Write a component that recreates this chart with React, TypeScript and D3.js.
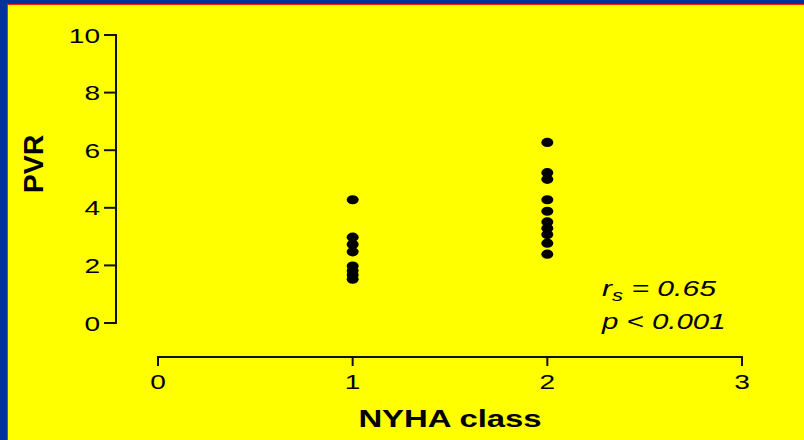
import React from "react";
import * as d3 from "d3";

const classes = [1, 2];
const class1Values = [4.28, 2.98, 2.73, 2.47, 1.98, 1.81, 1.67, 1.52];
const class2Values = [6.27, 5.22, 4.99, 4.28, 3.88, 3.51, 3.29, 3.07, 2.77, 2.39];
const yTicks = [0, 2, 4, 6, 8, 10];
const xTicks = [0, 1, 2, 3];
const xLabel = "NYHA class";
const yLabel = "PVR";
const statR = "0.65";
const statP = "p < 0.001";

const W = 804;
const H = 440;
const SX = 1.37;
const FONT = "'Liberation Sans', Arial, Helvetica, sans-serif";

export default function App() {
  const x = d3.scaleLinear().domain([0, 3]).range([158, 742]);
  const y = d3.scaleLinear().domain([0, 10]).range([323, 35]);
  const series = [class1Values, class2Values];
  const xAxisY = 357;
  const yAxisX = 116;

  return (
    <svg
      width={W}
      height={H}
      style={{ position: "absolute", left: 0, top: 0, display: "block" }}
    >
      <rect x={0} y={0} width={W} height={H} fill="#003399" />
      <rect x={8} y={5} width={W - 8} height={H - 5} fill="#ffff00" />
      <line x1={7.5} y1={4.5} x2={7.5} y2={H} stroke="#ff2200" strokeWidth={1} />
      <line x1={7.5} y1={4.5} x2={W} y2={4.5} stroke="#ff2200" strokeWidth={1} />

      {/* y axis */}
      <line x1={yAxisX} y1={y(0)} x2={yAxisX} y2={y(10)} stroke="#111" strokeWidth={2} />
      {yTicks.map((t) => (
        <g key={"yt" + t}>
          <line x1={yAxisX - 12} x2={yAxisX + 1} y1={y(t)} y2={y(t)} stroke="#111" strokeWidth={2} />
          <text
            transform={`translate(100,${y(t) + 7.5}) scale(${SX},1)`}
            textAnchor="end"
            fontFamily={FONT}
            fontSize={20.5}
            fill="#000"
          >
            {t}
          </text>
        </g>
      ))}

      {/* x axis */}
      <line x1={x(0)} y1={xAxisY} x2={x(3)} y2={xAxisY} stroke="#111" strokeWidth={2} />
      {xTicks.map((t) => (
        <g key={"xt" + t}>
          <line x1={x(t)} x2={x(t)} y1={xAxisY - 1} y2={xAxisY + 9} stroke="#111" strokeWidth={2} />
          <text
            transform={`translate(${x(t)},389) scale(${SX},1)`}
            textAnchor="middle"
            fontFamily={FONT}
            fontSize={20.5}
            fill="#000"
          >
            {t}
          </text>
        </g>
      ))}

      {/* points */}
      {series.map((vals, i) =>
        vals.map((v, j) => (
          <ellipse key={`p${i}-${j}`} cx={x(classes[i])} cy={y(v)} rx={6} ry={4.6} fill="#000" />
        ))
      )}

      {/* labels */}
      <text
        transform={`translate(450,427) scale(${SX},1)`}
        textAnchor="middle"
        fontFamily={FONT}
        fontSize={24}
        fontWeight="bold"
        fill="#000"
      >
        {xLabel}
      </text>
      <text
        transform={`translate(42.5,164) rotate(-90)`}
        textAnchor="middle"
        fontFamily={FONT}
        fontSize={28.5}
        fontWeight="bold"
        fill="#000"
      >
        {yLabel}
      </text>

      {/* stats */}
      <text
        transform={`translate(602,296) scale(${SX},1)`}
        fontFamily={FONT}
        fontSize={22}
        fontStyle="italic"
        fill="#000"
      >
        r
        <tspan fontSize={16} dy={5}>s</tspan>
        <tspan dy={-5}>{" = " + statR}</tspan>
      </text>
      <text
        transform={`translate(602,329) scale(${SX},1)`}
        fontFamily={FONT}
        fontSize={21.5}
        fontStyle="italic"
        fill="#000"
      >
        {statP}
      </text>
    </svg>
  );
}
